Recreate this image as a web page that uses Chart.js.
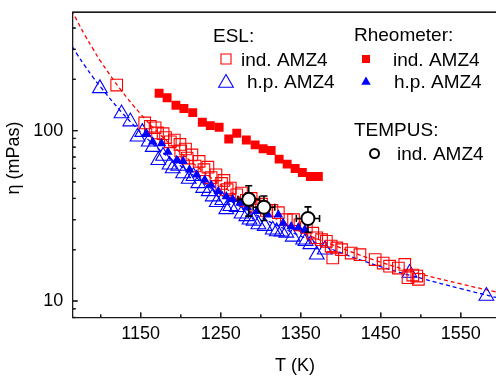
<!DOCTYPE html>
<html>
<head>
<meta charset="utf-8">
<script src="https://cdn.jsdelivr.net/npm/chart.js@4.4.1/dist/chart.umd.min.js"></script>
<style>
  html, body { margin: 0; padding: 0; background: #fff; }
  #myChart { display: block; }
</style>
</head>
<body>
<canvas id="myChart" width="496" height="376"></canvas>
<script>
// ---- data ----
// ESL, induction-melted AMZ4 (open red squares)
const eslIndT = [1120, 1155, 1162, 1168, 1171, 1178, 1181, 1187, 1192, 1199, 1200, 1206, 1208, 1214, 1218, 1223,
  1229, 1234, 1238, 1244, 1251, 1254, 1258, 1262, 1270, 1276, 1282, 1288, 1295, 1301, 1307, 1314, 1322, 1332,
  1341, 1349, 1357, 1365, 1370, 1376, 1382, 1388, 1390, 1395, 1401, 1413, 1424, 1443, 1453, 1461, 1472, 1480,
  1484, 1490, 1495, 1497];
const eslIndEta = [185, 111, 106, 104, 97, 96, 91, 86, 88, 83, 76, 78, 69, 72, 62, 66,
  59, 61, 53, 55, 49, 51, 45, 46, 42, 43, 39, 40, 36, 37, 34, 34, 33, 30,
  30, 28, 27, 25, 23.5, 22.9, 22.4, 21, 17.9, 20.5, 20, 19.1, 18.7, 17.5, 16.7, 16.0, 15.6, 16.4,
  13.7, 14.2, 14.0, 13.4];

// ESL, high-purity AMZ4 (open blue triangles)
const eslHpT = [1099, 1126, 1137, 1146, 1152, 1160, 1165, 1172, 1178, 1186, 1190, 1197, 1203, 1210, 1216, 1222,
  1228, 1235, 1240, 1245, 1252, 1257, 1262, 1270, 1276, 1282, 1286, 1291, 1297, 1305, 1315, 1320, 1326, 1332,
  1340, 1353, 1356, 1362, 1370, 1380, 1486, 1582];
const eslHpEta = [177, 126, 113, 92, 98, 86, 80, 67, 71, 63, 60, 62, 56, 52, 54, 49,
  46, 44, 41, 38, 39, 34.5, 36, 35.5, 32.5, 31.4, 30, 29.5, 28.1, 27.5, 26.2, 25.6, 25.5, 25.1,
  23.8, 22.9, 22.4, 21.5, 18.7, 20.0, 14.6, 10.7];

// Rheometer, induction-melted AMZ4 (filled red squares)
const rheoIndT = [1173, 1183, 1194, 1204, 1215, 1227, 1237, 1248, 1260, 1270, 1282, 1293, 1303, 1313, 1323, 1333,
  1343, 1352, 1362, 1372];
const rheoIndEta = [165.6, 156, 141, 135, 127.5, 112, 107, 104.7, 89.4, 96.6, 88.2, 82.5, 78.2, 76.4, 68, 63.6,
  59.9, 56.8, 53.8, 53.8];

// Rheometer, high-purity AMZ4 (filled blue triangles)
const rheoHpT = [1157, 1165, 1176, 1184, 1195, 1203, 1211, 1220, 1230, 1238, 1247, 1257, 1265, 1274, 1283, 1295,
  1309, 1322, 1328, 1338, 1347, 1355];
const rheoHpEta = [96.6, 86, 84, 75, 67, 66, 59, 55, 51.4, 48, 44, 41, 39.5, 37.6, 35.5, 33.6,
  32.1, 32.1, 28.7, 27.4, 27, 26.2];

// TEMPUS, induction-melted AMZ4 (open black circles with error bars)
const tempusT = [1285, 1304, 1359];
const tempusEta = [39.5, 35.5, 30.5];
const tempusTErr = [13.5, 13.5, 14.5];
const tempusEtaErr = [8, 5.8, 5.2];

// dashed fit curves
const fitT = [1060, 1070, 1080, 1090, 1100, 1125, 1150, 1175, 1200, 1250, 1300, 1350, 1400, 1450, 1500, 1550, 1594];
const fitIndEta = [552, 446, 365, 304, 255, 174, 125, 94, 74, 48, 34.3, 25.5, 20.5, 16.9, 14.4, 12.6, 11.3];
const fitHpEta = [336, 283, 241, 207, 180, 130, 98, 76, 62, 42, 31, 24, 19.2, 15.9, 13.6, 11.8, 10.5];

// axis ticks
const xTicksMajor = [1150, 1250, 1350, 1450, 1550];
const xTicksMinor = [1100, 1200, 1300, 1400, 1500];
const yTicksMajor = [10, 100];
const yTicksMinor = [8, 9, 20, 30, 40, 50, 60, 70, 80, 90, 200, 300, 400];

const RED = '#ff0000';
const BLUE = '#0000ff';
const AXIS = '#1a1a1a';
const FONT = '"Liberation Sans", Arial, Helvetica, sans-serif';

const pts = (xs, ys) => xs.map((x, i) => ({ x, y: ys[i] }));

// 凡例用の記号
function square(c, x, y, s, fill, stroke) {
  c.beginPath();
  c.rect(x - s / 2, y - s / 2, s, s);
  if (fill) { c.fillStyle = fill; c.fill(); }
  if (stroke) { c.strokeStyle = stroke; c.stroke(); }
}
function triangle(c, x, y, r, fill, stroke) {
  c.beginPath();
  c.moveTo(x, y - r);
  c.lineTo(x + r * Math.sqrt(3) / 2, y + r / 2);
  c.lineTo(x - r * Math.sqrt(3) / 2, y + r / 2);
  c.closePath();
  if (fill) { c.fillStyle = fill; c.fill(); }
  if (stroke) { c.strokeStyle = stroke; c.stroke(); }
}

// 枠と内向きの目盛り
function drawFrame(chart) {
  const c = chart.ctx, xs = chart.scales.x, ys = chart.scales.y;
  const { left, top, bottom } = chart.chartArea;
  c.save();
  c.setLineDash([]);
  c.globalAlpha = 1;
  c.globalCompositeOperation = 'source-over';
  c.fillStyle = AXIS;
  xTicksMajor.forEach(v => { const p = xs.getPixelForValue(v); c.fillRect(p - 0.6, bottom - 5, 1.2, 5); });
  xTicksMinor.forEach(v => { const p = xs.getPixelForValue(v); c.fillRect(p - 0.6, bottom - 3, 1.2, 3); });
  yTicksMajor.forEach(v => { const p = ys.getPixelForValue(v); c.fillRect(left, p - 0.6, 5, 1.2); });
  yTicksMinor.forEach(v => { const p = ys.getPixelForValue(v); c.fillRect(left, p - 0.6, 3, 1.2); });
  c.fillRect(left - 0.65, top - 0.7, chart.width - left + 1, 1.4);
  c.restore();
}

// エラーバー、軸タイトル、凡例を描くプラグイン
const decor = {
  id: 'decor',
  beforeDatasetDraw(chart, args) {
    if (args.index !== 0) return;
    const c = chart.ctx, xs = chart.scales.x, ys = chart.scales.y;
    c.save();
    c.setLineDash([]);
    c.strokeStyle = '#000';
    c.lineWidth = 1.6;
    c.beginPath();
    tempusT.forEach((t, i) => {
      const e = tempusEta[i];
      const px = xs.getPixelForValue(t), py = ys.getPixelForValue(e);
      const x0 = xs.getPixelForValue(t - tempusTErr[i]), x1 = xs.getPixelForValue(t + tempusTErr[i]);
      const y0 = ys.getPixelForValue(e + tempusEtaErr[i]), y1 = ys.getPixelForValue(e - tempusEtaErr[i]);
      c.moveTo(x0, py); c.lineTo(x1, py);
      c.moveTo(x0, py - 3.5); c.lineTo(x0, py + 3.5);
      c.moveTo(x1, py - 3.5); c.lineTo(x1, py + 3.5);
      c.moveTo(px, y0); c.lineTo(px, y1);
      c.moveTo(px - 3.5, y0); c.lineTo(px + 3.5, y0);
      c.moveTo(px - 3.5, y1); c.lineTo(px + 3.5, y1);
    });
    c.stroke();
    c.restore();
  },
  afterDraw(chart) {
    const c = chart.ctx;
    drawFrame(chart);
    c.save();
    // axis titles
    c.fillStyle = '#000';
    c.font = '18px ' + FONT;
    c.textAlign = 'center';
    c.textBaseline = 'middle';
    c.fillText('T (K)', 295, 366);
    c.save();
    c.translate(14, 158);
    c.rotate(-Math.PI / 2);
    c.fillText('η (mPas)', 0, 0);
    c.restore();

    // legend
    c.font = '19px ' + FONT;
    c.textAlign = 'left';
    c.textBaseline = 'alphabetic';
    c.fillText('ESL:', 213, 42);
    c.fillText('ind. AMZ4', 241, 66);
    c.fillText('h.p. AMZ4', 247, 88);
    c.fillText('Rheometer:', 354, 41);
    c.fillText('ind. AMZ4', 393, 66);
    c.fillText('h.p. AMZ4', 394, 88);
    c.fillText('TEMPUS:', 354, 136);
    c.fillText('ind. AMZ4', 397, 160);

    c.lineWidth = 1.1;
    square(c, 226, 59, 10, null, RED);
    triangle(c, 226, 83, 8.5, null, BLUE);
    square(c, 366, 59, 8, RED, null);
    triangle(c, 366, 82, 5.5, BLUE, null);
    c.lineWidth = 2;
    c.beginPath();
    c.arc(374.5, 153.5, 4.5, 0, Math.PI * 2);
    c.strokeStyle = '#000';
    c.stroke();
    c.restore();
  }
};

const ctx = document.getElementById('myChart').getContext('2d');
const myChart = new Chart(ctx, {
  type: 'scatter',
  data: {
    datasets: [
      {
        label: 'TEMPUS ind. AMZ4',
        data: pts(tempusT, tempusEta),
        pointStyle: 'circle', pointRadius: 6.5, borderWidth: 2,
        borderColor: '#000', backgroundColor: '#fff',
      },
      {
        label: 'Rheometer h.p. AMZ4',
        data: pts(rheoHpT, rheoHpEta),
        pointStyle: 'triangle', pointRadius: 5.5, borderWidth: 0,
        borderColor: BLUE, backgroundColor: BLUE,
      },
      {
        label: 'Rheometer ind. AMZ4',
        data: pts(rheoIndT, rheoIndEta),
        pointStyle: 'rect', pointRadius: 6.3, borderWidth: 0,
        borderColor: RED, backgroundColor: RED,
      },
      {
        label: 'ESL ind. AMZ4',
        data: pts(eslIndT, eslIndEta),
        pointStyle: 'rect', pointRadius: 8.2, borderWidth: 1.1,
        borderColor: RED, backgroundColor: 'rgba(0,0,0,0)',
      },
      {
        label: 'ESL h.p. AMZ4',
        data: pts(eslHpT, eslHpEta),
        pointStyle: 'triangle', pointRadius: 8.5, borderWidth: 1.1,
        borderColor: BLUE, backgroundColor: 'rgba(0,0,0,0)',
      },
      {
        label: 'fit ind.',
        type: 'line',
        data: pts(fitT, fitIndEta),
        borderColor: RED, borderWidth: 1.3, borderDash: [4, 3],
        pointRadius: 0, tension: 0.4, fill: false,
      },
      {
        label: 'fit h.p.',
        type: 'line',
        data: pts(fitT, fitHpEta),
        borderColor: BLUE, borderWidth: 1.3, borderDash: [4, 3],
        pointRadius: 0, tension: 0.4, fill: false,
      },
    ],
  },
  options: {
    responsive: false,
    animation: false,
    layout: { autoPadding: false, padding: { top: 12.3, right: 0, bottom: 0, left: 0 } },
    plugins: { legend: { display: false }, tooltip: { enabled: false } },
    scales: {
      x: {
        type: 'linear', min: 1065, max: 1594,
        afterBuildTicks: (s) => { s.ticks = xTicksMajor.map(v => ({ value: v })); },
        afterFit: (s) => { s.height = 58.5; s.paddingLeft = 0; s.paddingRight = 0; },
        grid: { display: false, drawTicks: false },
        border: { display: true, color: AXIS, width: 1.3 },
        ticks: { color: '#000', font: { family: FONT, size: 18 }, padding: 6, maxRotation: 0, autoSkip: false,
          callback: (v) => String(v) },
      },
      y: {
        type: 'logarithmic', min: 8, max: 495,
        afterBuildTicks: (s) => { s.ticks = yTicksMajor.map(v => ({ value: v })); },
        afterFit: (s) => { s.width = 72.7; s.paddingTop = 0; s.paddingBottom = 0; },
        grid: { display: false, drawTicks: false },
        border: { display: true, color: AXIS, width: 1.3 },
        ticks: { color: '#000', font: { family: FONT, size: 18 }, padding: 9.5, autoSkip: false,
          callback: (v) => String(v) },
      },
    },
  },
  plugins: [decor],
});

// 描画完了後にもう一度枠を重ねる
drawFrame(myChart);
</script>
</body>
</html>
